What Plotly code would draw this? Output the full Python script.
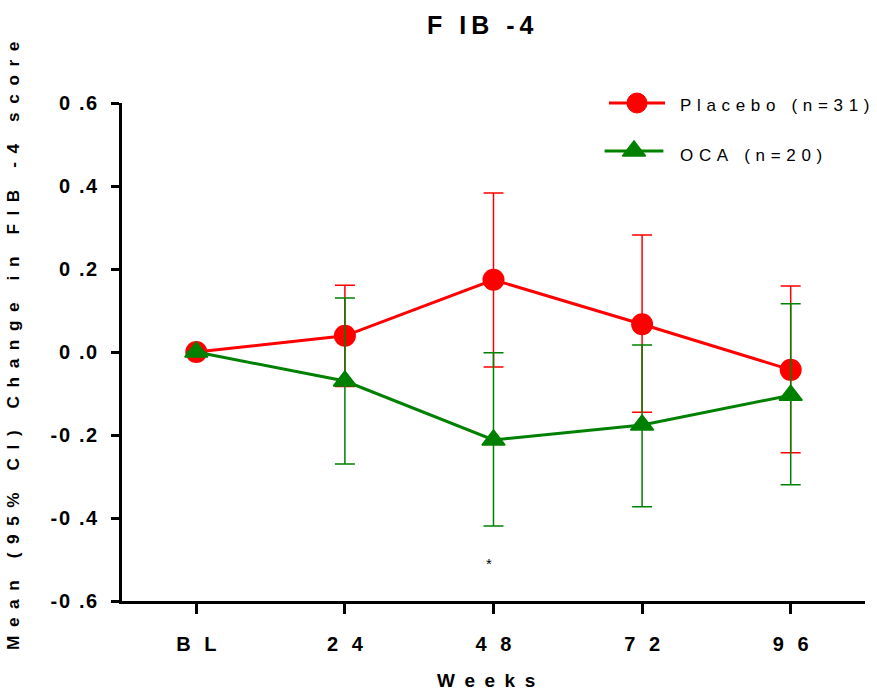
import plotly.graph_objects as go

weeks = ["BL", "24", "48", "72", "96"]
week_labels = ["B L", "2 4", "4 8", "7 2", "9 6"]

placebo_mean = [0.0, 0.039, 0.174, 0.067, -0.043]
placebo_upper = [None, 0.161, 0.383, 0.282, 0.159]
placebo_lower = [None, -0.083, -0.036, -0.145, -0.243]

oca_mean = [0.0, -0.070, -0.212, -0.176, -0.104]
oca_upper = [None, 0.130, -0.002, 0.017, 0.116]
oca_lower = [None, -0.270, -0.419, -0.373, -0.320]

y_ticks = [-0.6, -0.4, -0.2, 0.0, 0.2, 0.4, 0.6]
y_tick_labels = ["-0 .6", "-0 .4", "-0 .2", "0 .0", "0 .2", "0 .4", "0 .6"]

series_names = ["Placebo (n=31)", "OCA (n=20)"]

sig_week = "48"
sig_y = -0.51

HAIR = "\u200a"
THIN = "\u2009"
THREE = "\u2004"
EN = "\u2002"
FONT = "Liberation Sans"


def spaced(s, sep):
    return sep.join(list(s))


def err(upper, lower, mean):
    plus = [None if u is None else u - m for u, m in zip(upper, mean)]
    minus = [None if l is None else m - l for l, m in zip(lower, mean)]
    return plus, minus


pp, pm = err(placebo_upper, placebo_lower, placebo_mean)
op, om = err(oca_upper, oca_lower, oca_mean)

RED = "#FF0000"
GREEN = "#008000"

W, H = 877, 692
L, R, T, B = 122, 12, 103, 91
PW, PH = W - L - R, H - T - B


def px(xw):
    return (xw - L) / PW


def py(yw):
    return (H - B - yw) / PH


fig = go.Figure()
fig.add_trace(go.Scatter(
    x=weeks, y=placebo_mean, mode="lines+markers",
    name=series_names[0], showlegend=False,
    line=dict(color=RED, width=3),
    marker=dict(symbol="circle", size=22, color=RED),
    error_y=dict(type="data", array=pp, arrayminus=pm, symmetric=False,
                 color=RED, thickness=1.5, width=10),
    cliponaxis=False,
))
fig.add_trace(go.Scatter(
    x=weeks, y=oca_mean, mode="lines+markers",
    name=series_names[1], showlegend=False,
    line=dict(color=GREEN, width=3),
    marker=dict(symbol="triangle-up", size=20, color=GREEN,
                line=dict(color=GREEN, width=1.5)),
    error_y=dict(type="data", array=op, arrayminus=om, symmetric=False,
                 color=GREEN, thickness=1.5, width=10),
    cliponaxis=False,
))

# legend keys drawn on a hidden overlay axis (0..1 over the plot area)
leg_items = [
    dict(cx=637, y=103, ty=105, len=40, color=RED, symbol="circle", size=20, lw=1),
    dict(cx=634, y=151, ty=155, len=42, color=GREEN, symbol="triangle-up", size=20, lw=1.5),
]
for name, it in zip(series_names, leg_items):
    fig.add_trace(go.Scatter(
        x=[px(it["cx"]), px(it["cx"])], y=[py(it["y"]), py(it["y"])],
        xaxis="x2", yaxis="y2", mode="markers",
        showlegend=False, hoverinfo="skip", cliponaxis=False,
        marker=dict(symbol=["line-ew", it["symbol"]],
                    size=[it["len"], it["size"]],
                    color=it["color"], opacity=1,
                    line=dict(color=it["color"], width=[3, it["lw"]])),
    ))
    fig.add_annotation(x=px(678), y=py(it["ty"]), xref="paper", yref="paper",
                       text=spaced(name, THREE), showarrow=False,
                       xanchor="left", yanchor="middle",
                       font=dict(size=17, color="black", family=FONT))

fig.add_annotation(x=weeks.index(sig_week), y=sig_y, xref="x", yref="y", text="*",
                   showarrow=False, xshift=-5,
                   font=dict(size=15, color="black", family=FONT))

fig.add_annotation(x=px(480), y=py(25), xref="paper", yref="paper",
                   text="<b>" + spaced("F IB -4", THIN) + "</b>", showarrow=False,
                   xanchor="center", yanchor="middle",
                   font=dict(size=25, color="black", family=FONT))

fig.add_annotation(x=px(13), y=py(346), xref="paper", yref="paper",
                   text="<b>" + spaced("Mean (95% CI) Change in FIB -4 score", EN) + "</b>",
                   showarrow=False, textangle=-90,
                   xanchor="center", yanchor="middle",
                   font=dict(size=17.2, color="black", family=FONT))

fig.add_annotation(x=px(486), y=py(693), xref="paper", yref="paper",
                   text="<b>" + spaced("Weeks", EN) + "</b>",
                   showarrow=False, xanchor="center", yanchor="bottom",
                   font=dict(size=19, color="black", family=FONT))

fig.update_layout(
    width=W, height=H,
    margin=dict(l=L, r=R, t=T, b=B, pad=0),
    paper_bgcolor="white", plot_bgcolor="white",
    font=dict(family=FONT, color="black"),
    showlegend=False,
    xaxis=dict(
        type="category", range=[-0.5, 4.5],
        tickmode="array", tickvals=weeks,
        ticktext=["<b>" + spaced(t, THIN) + "</b>" for t in week_labels],
        showgrid=False, zeroline=False,
        showline=True, linecolor="black", linewidth=2.5,
        ticks="outside", ticklen=10, tickwidth=2.5, tickcolor="black",
        ticklabelstandoff=13,
        tickfont=dict(size=20, color="black", family=FONT),
    ),
    yaxis=dict(
        range=[-0.6, 0.6],
        tickmode="array", tickvals=y_ticks,
        ticktext=["<b>" + spaced(t, HAIR) + "</b>" for t in y_tick_labels],
        showgrid=False, zeroline=False,
        showline=True, linecolor="black", linewidth=2.5,
        ticks="outside", ticklen=8, tickwidth=2.5, tickcolor="black",
        ticklabelstandoff=10,
        tickfont=dict(size=20, color="black", family=FONT),
    ),
    xaxis2=dict(overlaying="x", range=[0, 1], visible=False, fixedrange=True),
    yaxis2=dict(overlaying="y", range=[0, 1], visible=False, fixedrange=True),
)

fig.write_html("out.html",
               config={"displayModeBar": False},
               post_script="document.body.style.margin='0px';document.body.style.overflow='hidden';")
